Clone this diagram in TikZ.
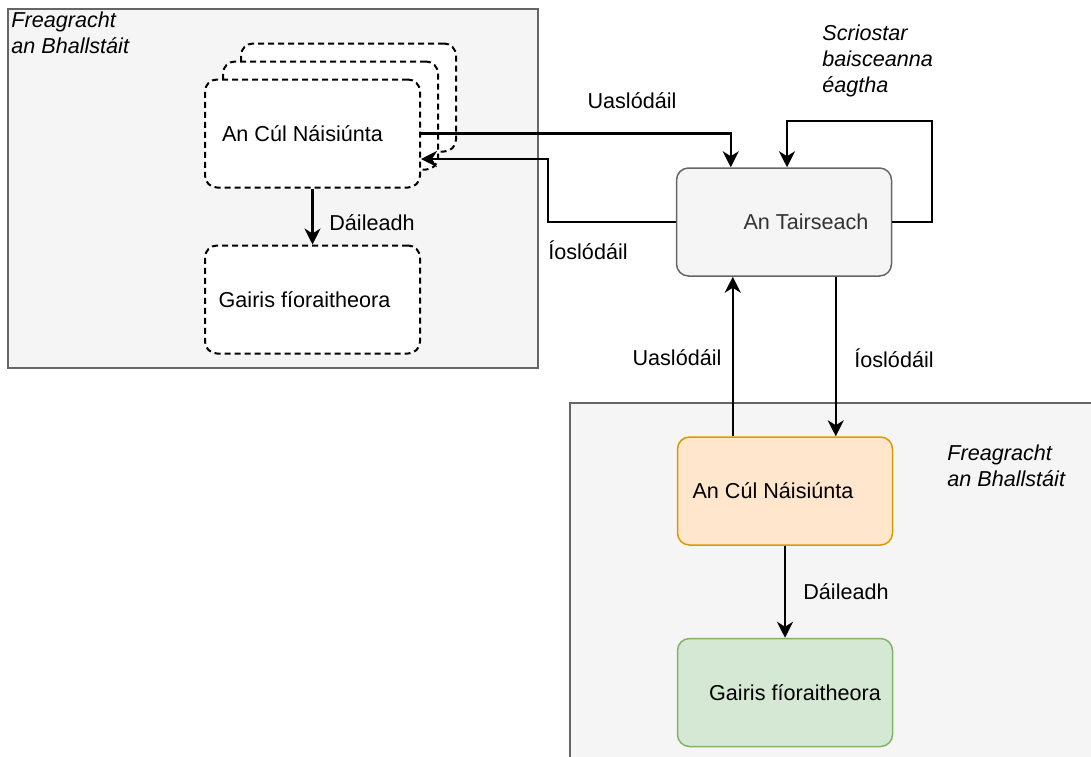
\documentclass[tikz,border=0pt]{standalone}
\usepackage{fontspec}
\setmainfont{Liberation Sans}
\definecolor{dioGray}{HTML}{F5F5F5}
\definecolor{dioLine}{HTML}{666666}
\definecolor{dioText}{HTML}{333333}
\definecolor{dioOrange}{HTML}{FFE6CC}
\definecolor{dioOrangeLine}{HTML}{D79B00}
\definecolor{dioGreen}{HTML}{D5E8D4}
\definecolor{dioGreenLine}{HTML}{82B366}
\usepackage{tikz}
\usetikzlibrary{arrows.meta,positioning,calc}

\begin{document}
\begin{tikzpicture}[
  x=0.5pt, y=-0.5pt,
  font=\fontsize{10.8}{12.8}\selectfont,
  panel/.style={draw=dioLine, fill=dioGray, line width=0.75pt,
    minimum width=265pt, minimum height=179.5pt},
  box/.style={rounded corners=6pt, line width=0.75pt,
    minimum width=107.5pt, minimum height=54pt, align=center},
  dashbox/.style={box, draw=black, fill=white, line width=1pt,
    dash pattern=on 3pt off 2pt},
  note/.style={font=\fontsize{10.8}{13}\selectfont\itshape, align=left, inner sep=0pt},
  lbl/.style={inner sep=0pt},
  arr/.style={-{Stealth[length=8pt,width=8pt,inset=2.5pt]}, line width=1.1pt}
]
  \clip (0,0) rectangle (1091,756);

  % Panels
  \node[panel] (leftpanel) at (273,188.5) {};
  \node[panel] (rightpanel) at (835,582.5) {};
  \node[note, anchor=west] (leftnote) at (11,33) {Freagracht\\an Bhallstáit};
  \node[note, anchor=west] (rightnote) at (947,466) {Freagracht\\an Bhallstáit};

  % Member state side (dashed)
  \node[dashbox] (backcul) at (348.5,97.5) {};
  \node[dashbox] (midcul) at (330.5,115.5) {};
  \node[dashbox] (cul) at (312.5,133.5) {An Cúl Náisiúnta\hspace*{10pt}};
  \node[dashbox, below=28pt of cul] (gairis) {Gairis fíoraitheora\hspace*{8pt}};

  % Gateway
  \node[box, draw=dioLine, fill=dioGray, text=dioText] (tairseach) at (784,222)
    {\hspace*{22pt}An Tairseach};

  % Member state side (coloured)
  \node[box, draw=dioOrangeLine, fill=dioOrange] (culb) at (785,491) {An Cúl Náisiúnta\hspace*{12pt}};
  \node[box, draw=dioGreenLine, fill=dioGreen, below=46pt of culb] (gairisb) {\hspace*{10pt}Gairis fíoraitheora};

  % Arrows
  \draw[arr] (cul) -- (gairis);
  \draw[arr] (cul.east) -| ([xshift=27.5pt]tairseach.north west);
  \draw[arr] (tairseach.west) -- ++(-128,0) |- ([yshift=-12.75pt]cul.east);
  \draw[arr] (tairseach.east) -- ++(40,0) -- ++(0,-101) -| ([xshift=1.5pt]tairseach.north);
  \draw[arr] ([xshift=28pt]culb.north west) -- ([xshift=28pt]culb.north west |- tairseach.south);
  \draw[arr] ([xshift=80pt]tairseach.south west) -- ([xshift=80pt]tairseach.south west |- culb.north);
  \draw[arr] (culb) -- (gairisb);

  % Labels
  \node[lbl] (upleft) at (632,101) {Uaslódáil};
  \node[lbl] (downleft) at (588,250) {Íoslódáil};
  \node[note, anchor=west] (scrios) at (822,61) {Scriostar\\baisceanna\\éagtha};
  \node[lbl] (upright) at (677,358) {Uaslódáil};
  \node[lbl] (downright) at (894,358) {Íoslódáil};
  \node[lbl] (dailA) at (372,223) {Dáileadh};
  \node[lbl] (dailB) at (846,592) {Dáileadh};
\end{tikzpicture}
\end{document}
